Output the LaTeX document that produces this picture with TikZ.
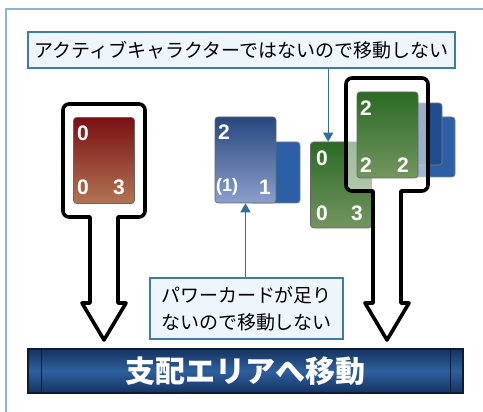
\documentclass[tikz,border=0pt]{standalone}
\usepackage{fontspec}
\newfontfamily\jp{Noto Sans CJK JP}
\newfontfamily\dig{Liberation Sans}
\usetikzlibrary{arrows.meta}
\definecolor{framec}{HTML}{8FB4D6}
\definecolor{boxfill}{HTML}{EEF6FB}
\definecolor{boxline}{HTML}{3F7BA8}
\definecolor{arrowc}{HTML}{2F6E9E}
\definecolor{redtop}{HTML}{7A0F12}
\definecolor{redbot}{HTML}{B27554}
\definecolor{bluetop}{HTML}{27487F}
\definecolor{bluebot}{HTML}{8C9FCB}
\definecolor{blueback}{HTML}{2D5FA6}
\definecolor{bluebackb}{HTML}{1F4C8C}
\definecolor{greentop}{HTML}{2B6B25}
\definecolor{greenbot}{HTML}{73955F}
\definecolor{bardark}{HTML}{15335F}
\definecolor{barmid}{HTML}{2F5F9E}
\definecolor{barline}{HTML}{0A1C38}
\tikzset{
  card/.style={rectangle, rounded corners=3, minimum width=61, minimum height=86, inner sep=0, draw=black!60, line width=0.6},
  redcard/.style={card, top color=redtop, bottom color=redbot},
  bluecard/.style={card, top color=bluetop, bottom color=bluebot},
  greencard/.style={card, top color=greentop, bottom color=greenbot},
  digit/.style={text=white, font=\dig\bfseries\fontsize{21}{21}\selectfont, inner sep=0, anchor=west},
  labelbox/.style={rectangle, fill=boxfill, draw=boxline, line width=1.4, inner sep=0, font=\jp\fontsize{19}{27}\selectfont, align=center},
  keyhole/.style={draw=black, line width=3.6, line join=round, fill=white, fill opacity=0.55, draw opacity=1},
  conn/.style={draw=arrowc, line width=1.4, -{Triangle[width=10,length=9]}},
}
\begin{document}
\begin{tikzpicture}[x=1pt,y=-1pt]
\useasboundingbox (0,0) rectangle (483,412);
\fill[white] (0,0) rectangle (483,412);
\draw[framec, line width=1.6] (6,420) -- (6,9) -- (490,9);

% left red card + keyhole
\path[keyhole] (90,217) -- (90,303) -- (82,303) -- (104,340) -- (126,303) -- (118,303) -- (118,217)
  [rounded corners=6] -- (145,217) -- (145,104) -- (63,104) -- (63,217) [sharp corners] -- cycle;
\node[redcard] (rc) at (104,160.5) {};
\node[digit] (rc1) at (77,133) {0};
\node[digit] (rc2) at (77,187) {0};
\node[digit] (rc3) at (113,187) {3};

% blue centre cards
\fill[blueback, rounded corners=3] (250,142) rectangle (300,203);
\draw[black!50, line width=0.6, rounded corners=3] (250,142) rectangle (300,203);
\node[bluecard] (bf) at (245.5,160) {};
\node[digit] (bf1) at (218,132) {2};
\node[digit, font=\dig\bfseries\fontsize{18}{18}\selectfont] (bf2) at (216,187) {(1)};
\node[digit] (bf3) at (259,187) {1};

% right stack
\fill[blueback, rounded corners=3] (370,117) rectangle (455,177);
\draw[black!50, line width=0.6, rounded corners=3] (370,117) rectangle (455,177);
\fill[bluebackb, rounded corners=3] (370,103) rectangle (442,165);
\draw[black!50, line width=0.6, rounded corners=3] (370,103) rectangle (442,165);
\node[greencard] (gm) at (341,185) {};
\node[digit] (gm1) at (316,158) {0};
\node[digit] (gm2) at (316,213) {0};
\node[digit] (gm3) at (351,213) {3};
\path[keyhole] (373,191) -- (373,303) -- (365,303) -- (387,340) -- (409,303) -- (401,303) -- (401,191)
  [rounded corners=6] -- (428,191) -- (428,78) -- (346,78) -- (346,191) [sharp corners] -- cycle;
\node[greencard] (gr) at (387.5,135) {};
\node[digit] (gr1) at (360,108) {2};
\node[digit] (gr2) at (360,165) {2};
\node[digit] (gr3) at (397,165) {2};

% label boxes
\node[labelbox, minimum width=427, minimum height=36] (tb) at (241.5,50) {アクティブキャラクターではないので移動しない};
\node[labelbox, minimum width=193, minimum height=61] (bb) at (246.5,308.5) {パワーカードが足り\\ないので移動しない};

% connectors
\path (gm.north west) ++(18,0) coordinate (gmin);
\draw[conn] (tb.south -| gmin) -- (gmin);
\draw[conn] (bb.north -| bf.south) -- (bf.south);

% bottom bar
\node[rectangle, minimum width=435, minimum height=44, inner sep=0, draw=barline, line width=1.4,
  top color=bardark, bottom color=bardark, middle color=barmid] (bar) at (245.5,371) {};
\draw[barline, line width=1] (bar.north west) ++(14,0) -- ++(0,44);
\draw[barline, line width=1] (bar.north east) ++(-13,0) -- ++(0,44);
\node[text=white, font=\jp\bfseries\fontsize{30}{30}\selectfont, inner sep=0] (bartext) at (bar.center) {支配エリアへ移動};
\end{tikzpicture}
\end{document}
